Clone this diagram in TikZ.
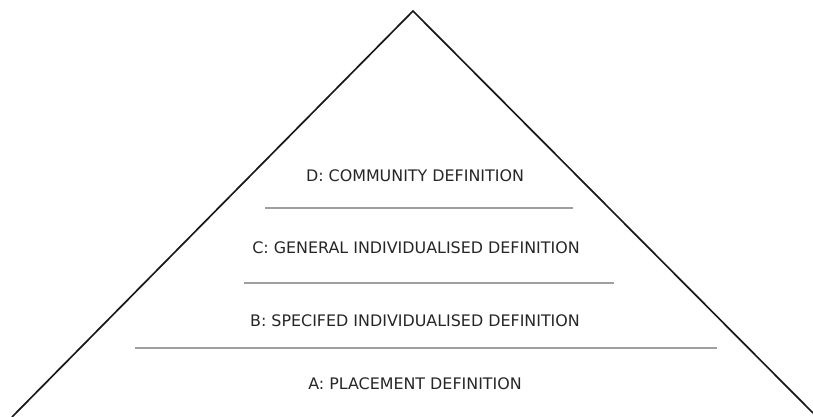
\documentclass[tikz,border=0pt]{standalone}
\usepackage{fontspec}
\setmainfont{DejaVu Sans}
\usepackage{tikz}
\usetikzlibrary{positioning}
\tikzset{
    side/.style={line width=1.7pt, black!90},
    divider/.style={line width=1.5pt, gray!75},
    level label/.style={font=\fontsize{15.9}{18}\selectfont, text=black!85, inner sep=0pt, anchor=base}
}

\begin{document}
\begin{tikzpicture}[x=1pt, y=-1pt]
    \useasboundingbox (0,0) rectangle (813,417);

    % --- Corners of the pyramid ---
    \coordinate (top) at (413,11);
    \coordinate (baseL) at (12,417);
    \coordinate (baseR) at (813,413);

    % --- Level labels ---
    \node (levelD) [level label] at (415,181) {D: COMMUNITY DEFINITION};
    \node (levelC) [level label] at (416,253) {C: GENERAL INDIVIDUALISED DEFINITION};
    \node (levelB) [level label] at (415,326) {B: SPECIFED INDIVIDUALISED DEFINITION};
    \node (levelA) [level label] at (415,389) {A: PLACEMENT DEFINITION};

    % --- Dividers between levels ---
    \coordinate (divDCl) at (265,208);
    \coordinate (divDCr) at (573,208);
    \coordinate (divCBl) at (244,283);
    \coordinate (divCBr) at (614,283);
    \coordinate (divBAl) at (135,348);
    \coordinate (divBAr) at (717,348);
    \draw[divider] (divDCl) -- (divDCr);
    \draw[divider] (divCBl) -- (divCBr);
    \draw[divider] (divBAl) -- (divBAr);

    % --- Sides ---
    \draw[side] (baseL) -- (top) -- (baseR);
\end{tikzpicture}
\end{document}
